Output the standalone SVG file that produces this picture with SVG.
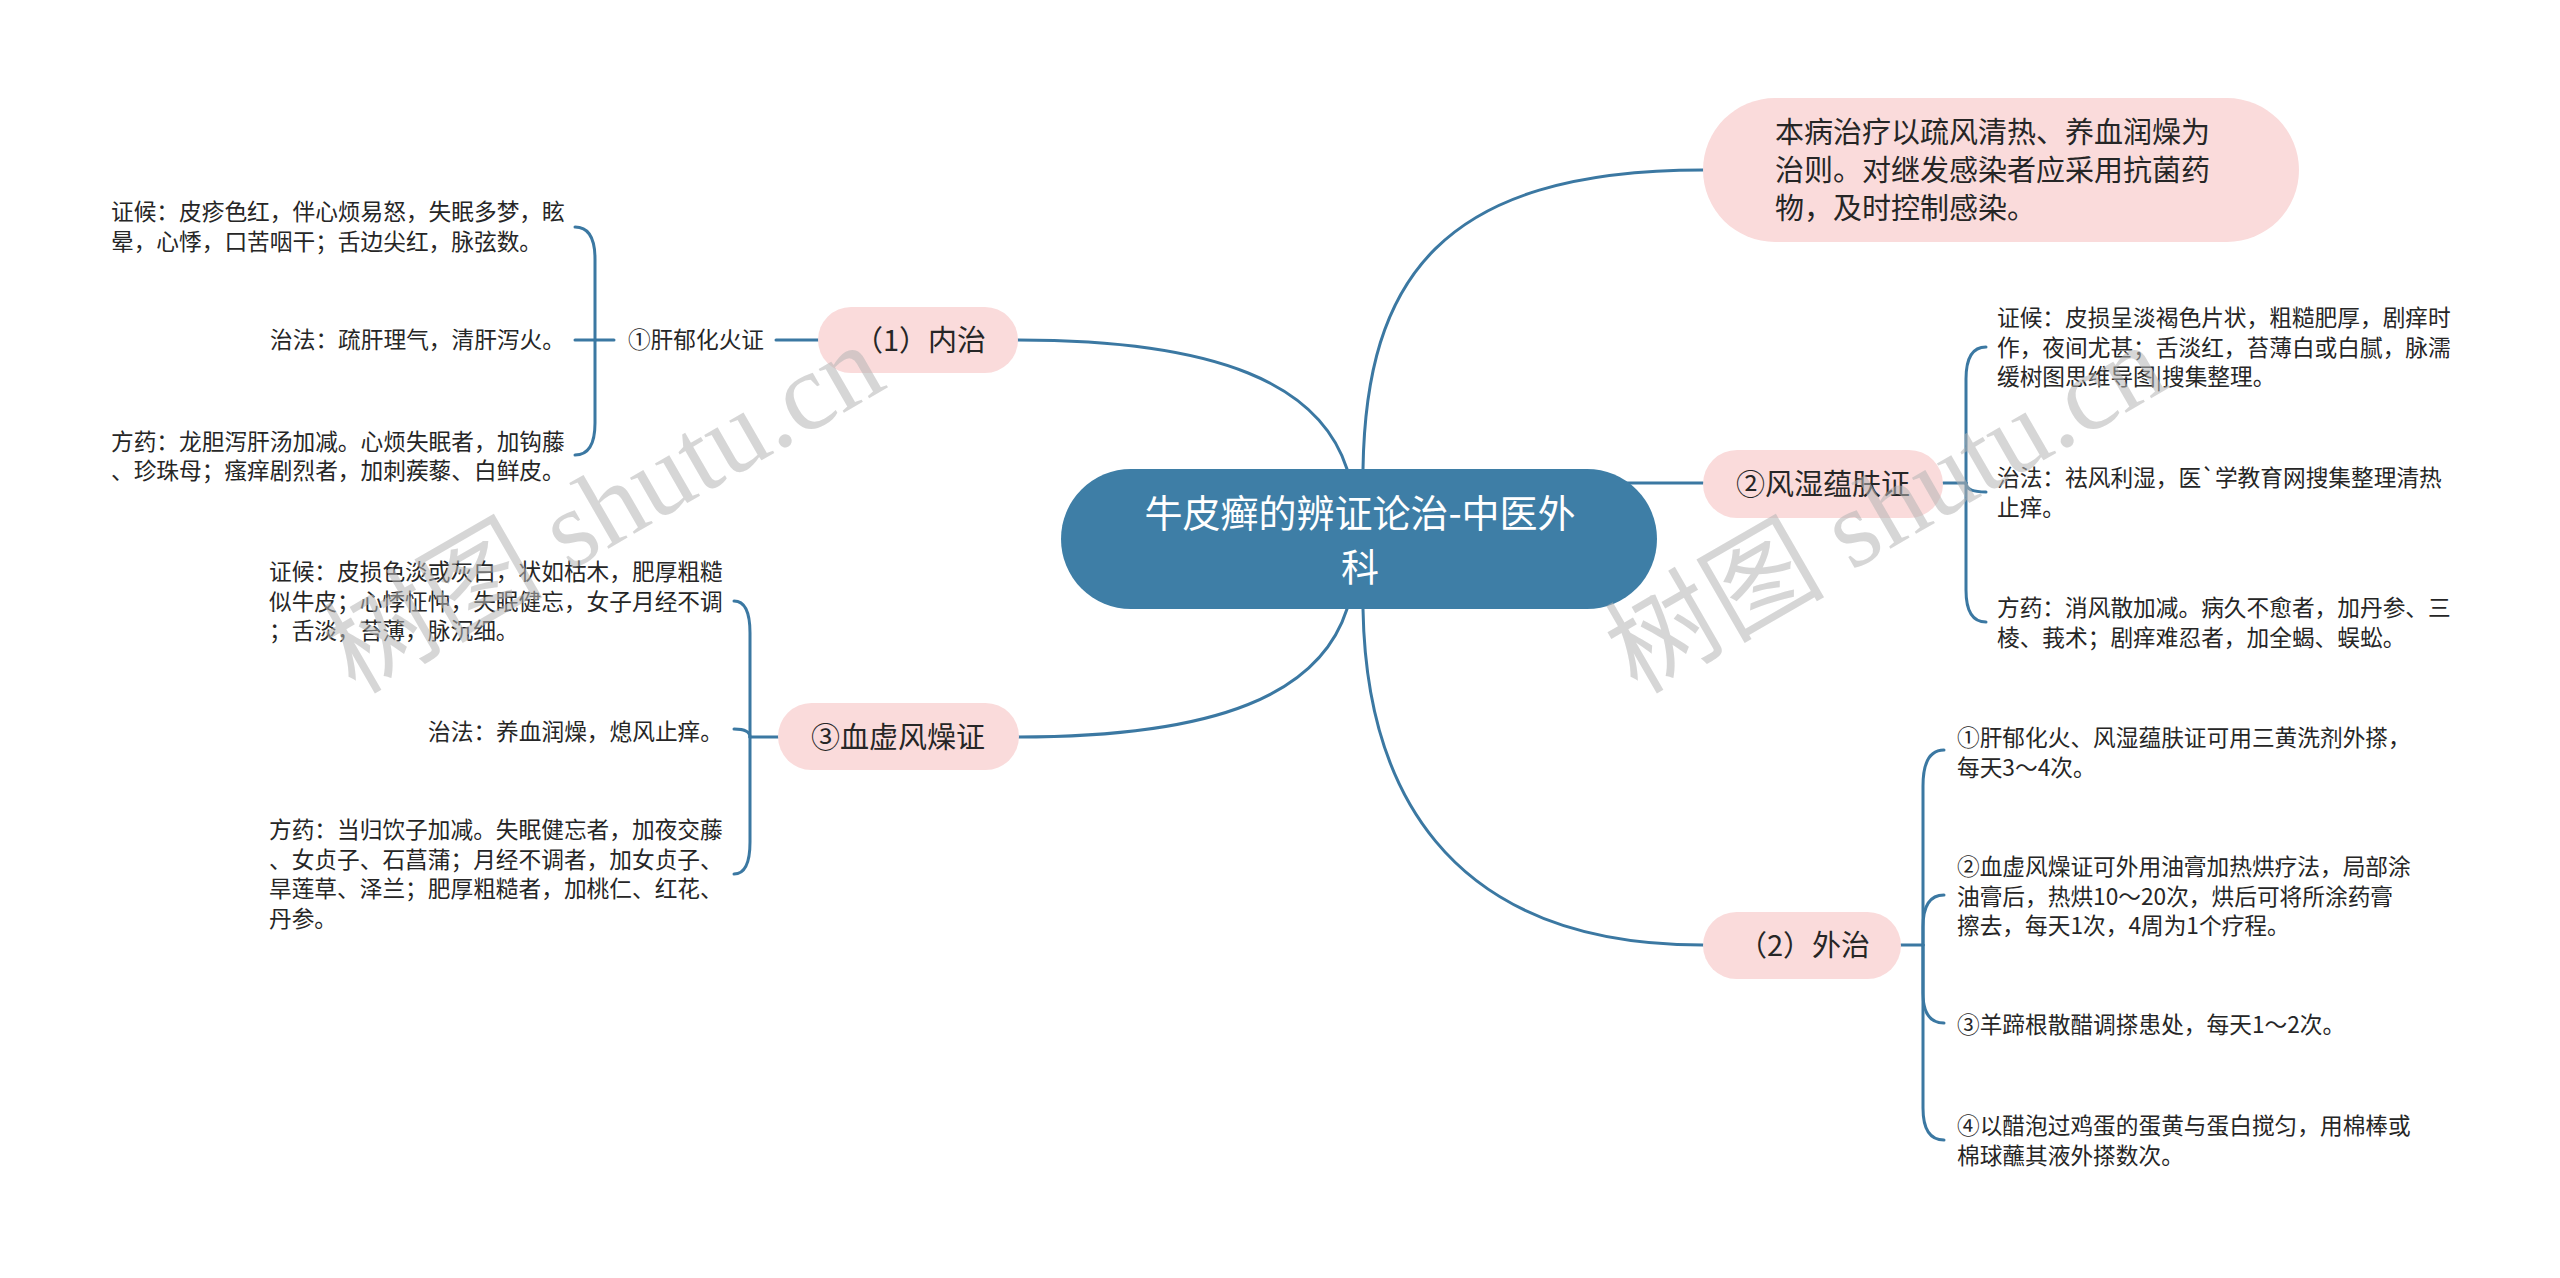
<svg xmlns="http://www.w3.org/2000/svg" width="2560" height="1278" viewBox="0 0 2560 1278">
<style>
.c{fill:none;stroke:#3b78a2;stroke-width:3;stroke-linecap:round}
.pk{fill:#fadbdb}
.t{font-family:"Noto Sans CJK SC","Noto Sans",sans-serif;fill:#262626}
.d{font-size:22.7px}
.n{font-size:29px}
.r{font-family:"Noto Sans CJK SC","Noto Sans",sans-serif;font-size:38px;fill:#ffffff}
.wm{font-family:"Liberation Serif","Noto Sans CJK SC",serif;font-size:110px;fill:#b4b4b4;fill-opacity:0.55}
</style>
<rect width="2560" height="1278" fill="#ffffff"/>
<g id="connectors">
<path class="c" d="M1347,469 C1320,385 1220,340 1018,340"/>
<path class="c" d="M1347,609 C1320,693 1220,737 1018,737"/>
<path class="c" d="M1363,469 C1366,280 1440,170 1703,170"/>
<path class="c" d="M1600,483 H1703"/>
<path class="c" d="M1363,609 C1366,780 1440,945 1703,945"/>
<path class="c" d="M818,340 H776"/>
<path class="c" d="M614,340 H595"/>
<path class="c" d="M595,340 V259 Q595,227 575,227"/>
<path class="c" d="M595,340 H575"/>
<path class="c" d="M595,340 V423 Q595,455 575,455"/>
<path class="c" d="M778,737 H750"/>
<path class="c" d="M750,737 V633 Q750,601 734,601"/>
<path class="c" d="M750,737 Q750,729 734,729"/>
<path class="c" d="M750,737 V842 Q750,874 734,874"/>
<path class="c" d="M1943,483 H1966"/>
<path class="c" d="M1966,483 V379 Q1966,347 1986,347"/>
<path class="c" d="M1966,483 Q1966,492 1986,492"/>
<path class="c" d="M1966,483 V590 Q1966,622 1986,622"/>
<path class="c" d="M1901,945 H1923"/>
<path class="c" d="M1923,945 V786 Q1923,750 1944,750"/>
<path class="c" d="M1923,945 V927 Q1923,895 1944,895"/>
<path class="c" d="M1923,945 V993 Q1923,1023 1944,1023"/>
<path class="c" d="M1923,945 V1108 Q1923,1140 1944,1140"/>
</g>
<g id="root">
<rect x="1061" y="469" width="596" height="140" rx="70" fill="#3e7ea6"/>
<text class="r" x="1360" y="527" text-anchor="middle">牛皮癣的辨证论治-中医外</text>
<text class="r" x="1360" y="581" text-anchor="middle">科</text>
</g>
<g id="node-principle">
<rect class="pk" x="1703" y="98" width="596" height="144" rx="72"/>
<text class="t n" x="1775" y="143">本病治疗以疏风清热、养血润燥为</text>
<text class="t n" x="1775" y="181">治则。对继发感染者应采用抗菌药</text>
<text class="t n" x="1775" y="219">物，及时控制感染。</text>
</g>
<g id="node-fengshi">
<rect class="pk" x="1703" y="450" width="240" height="68" rx="34"/>
<text class="t n" x="1823" y="495" text-anchor="middle">②风湿蕴肤证</text>
</g>
<g id="node-waizhi">
<rect class="pk" x="1703" y="912" width="198" height="67" rx="33.5"/>
<text class="t n" x="1804" y="956" text-anchor="middle">（2）外治</text>
</g>
<g id="node-neizhi">
<rect class="pk" x="818" y="307" width="200" height="66" rx="33"/>
<text class="t n" x="920" y="351" text-anchor="middle">（1）内治</text>
</g>
<g id="node-xuexu">
<rect class="pk" x="778" y="703" width="241" height="67" rx="33.5"/>
<text class="t n" x="898" y="748" text-anchor="middle">③血虚风燥证</text>
</g>
<g id="node-ganyu">
<text class="t d" x="696" y="348" text-anchor="middle">①肝郁化火证</text>
</g>
<g id="ganyu-zhenghou">
<text class="t d" x="111" y="220">证候：皮疹色红，伴心烦易怒，失眠多梦，眩</text>
<text class="t d" x="111" y="250">晕，心悸，口苦咽干；舌边尖红，脉弦数。</text>
</g>
<g id="ganyu-zhifa">
<text class="t d" x="565" y="348" text-anchor="end">治法：疏肝理气，清肝泻火。</text>
</g>
<g id="ganyu-fangyao">
<text class="t d" x="111" y="450">方药：龙胆泻肝汤加减。心烦失眠者，加钩藤</text>
<text class="t d" x="111" y="479">、珍珠母；瘙痒剧烈者，加刺蒺藜、白鲜皮。</text>
</g>
<g id="xuexu-zhenghou">
<text class="t d" x="269" y="580">证候：皮损色淡或灰白，状如枯木，肥厚粗糙</text>
<text class="t d" x="269" y="609.5">似牛皮；心悸怔忡，失眠健忘，女子月经不调</text>
<text class="t d" x="269" y="639">；舌淡，苔薄，脉沉细。</text>
</g>
<g id="xuexu-zhifa">
<text class="t d" x="723" y="740" text-anchor="end">治法：养血润燥，熄风止痒。</text>
</g>
<g id="xuexu-fangyao">
<text class="t d" x="269" y="838">方药：当归饮子加减。失眠健忘者，加夜交藤</text>
<text class="t d" x="269" y="867.5">、女贞子、石菖蒲；月经不调者，加女贞子、</text>
<text class="t d" x="269" y="897">旱莲草、泽兰；肥厚粗糙者，加桃仁、红花、</text>
<text class="t d" x="269" y="926.5">丹参。</text>
</g>
<g id="fengshi-zhenghou">
<text class="t d" x="1997" y="326">证候：皮损呈淡褐色片状，粗糙肥厚，剧痒时</text>
<text class="t d" x="1997" y="355.5">作，夜间尤甚；舌淡红，苔薄白或白腻，脉濡</text>
<text class="t d" x="1997" y="385">缓树图思维导图|搜集整理。</text>
</g>
<g id="fengshi-zhifa">
<text class="t d" x="1997" y="486">治法：祛风利湿，医`学教育网搜集整理清热</text>
<text class="t d" x="1997" y="515.5">止痒。</text>
</g>
<g id="fengshi-fangyao">
<text class="t d" x="1997" y="616">方药：消风散加减。病久不愈者，加丹参、三</text>
<text class="t d" x="1997" y="645.5">棱、莪术；剧痒难忍者，加全蝎、蜈蚣。</text>
</g>
<g id="waizhi-1">
<text class="t d" x="1957" y="746">①肝郁化火、风湿蕴肤证可用三黄洗剂外搽，</text>
<text class="t d" x="1957" y="775.5">每天3～4次。</text>
</g>
<g id="waizhi-2">
<text class="t d" x="1957" y="875">②血虚风燥证可外用油膏加热烘疗法，局部涂</text>
<text class="t d" x="1957" y="904.5">油膏后，热烘10～20次，烘后可将所涂药膏</text>
<text class="t d" x="1957" y="934">擦去，每天1次，4周为1个疗程。</text>
</g>
<g id="waizhi-3">
<text class="t d" x="1957" y="1033">③羊蹄根散醋调搽患处，每天1～2次。</text>
</g>
<g id="waizhi-4">
<text class="t d" x="1957" y="1134">④以醋泡过鸡蛋的蛋黄与蛋白搅匀，用棉棒或</text>
<text class="t d" x="1957" y="1163.5">棉球蘸其液外搽数次。</text>
</g>
<g id="watermarks">
<text class="wm" x="355" y="695" transform="rotate(-30 355 695)">树图 shutu.cn</text>
<text class="wm" x="1637" y="695" transform="rotate(-30 1637 695)">树图 shutu.cn</text>
</g>
</svg>
